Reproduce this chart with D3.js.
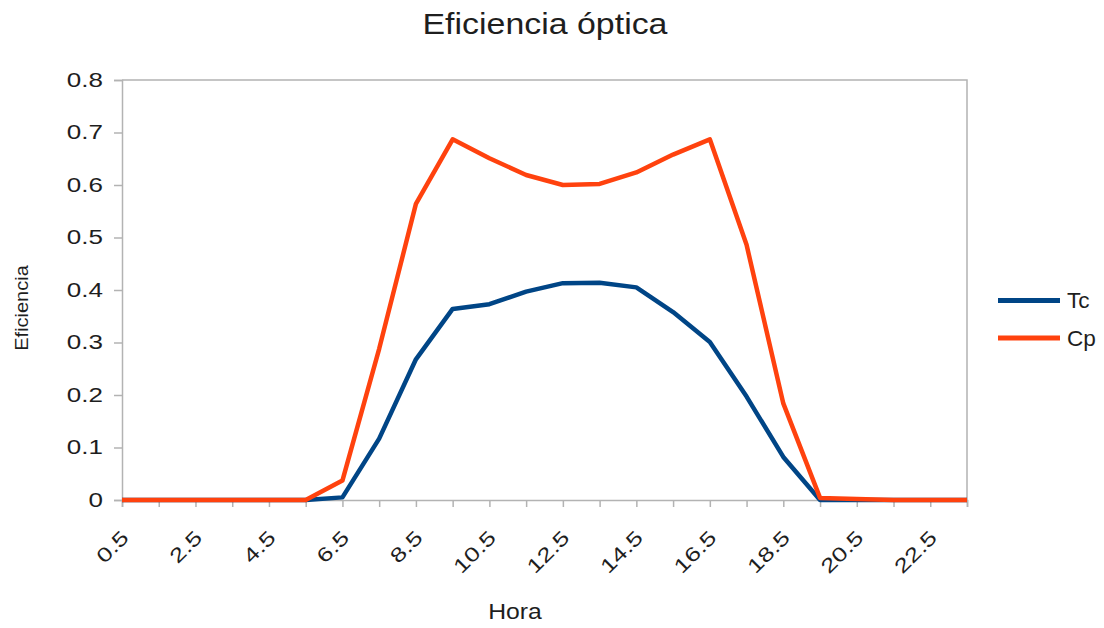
<!DOCTYPE html>
<html>
<head>
<meta charset="utf-8">
<script src="https://cdn.jsdelivr.net/npm/d3@7"></script>
<style>
  body { margin: 0; background: #fff; }
  svg { font-family: "Liberation Sans", Arial, sans-serif; }
</style>
</head>
<body>
<div id="chart"></div>
<script>
const width = 1104;
const height = 628;

// hours, one point per hour
const horas = ["0.5","1.5","2.5","3.5","4.5","5.5","6.5","7.5","8.5","9.5","10.5","11.5",
               "12.5","13.5","14.5","15.5","16.5","17.5","18.5","19.5","20.5","21.5","22.5","23.5"];
const tc = [0,0,0,0,0,0,0.005,0.117,0.268,0.364,0.373,0.397,0.413,0.414,0.405,0.358,0.301,0.197,0.082,0,0,0,0,0];
const cp = [0,0,0,0,0,0,0.037,0.288,0.564,0.687,0.651,0.619,0.600,0.602,0.624,0.658,0.687,0.486,0.184,0.004,0.002,0,0,0];
const yTicks = [0, 0.1, 0.2, 0.3, 0.4, 0.5, 0.6, 0.7, 0.8];
const series = [
    { name: "Tc", values: tc, color: "#004586" },
    { name: "Cp", values: cp, color: "#ff420e" }
];

const margin = { left: 122, right: 137, top: 80, bottom: 128 };

const svg = d3.select('#chart')
    .append("svg")
    .attr('width', width)
    .attr('height', height);

// the reference text is a bit wider than Liberation Sans, stretch it
function stretch(sel, factor) {
    sel.each(function () {
        const w = this.getComputedTextLength();
        d3.select(this)
            .attr("textLength", w * factor)
            .attr("lengthAdjust", "spacingAndGlyphs");
    });
}

const x = d3.scalePoint()
    .domain(horas)
    .range([margin.left, width - margin.right]);

const y = d3.scaleLinear()
    .domain([0, 0.8])
    .range([height - margin.bottom, margin.top]);

// frame (top and right)
svg.append("path")
    .attr("d", `M${margin.left},${y(0.8)}H${width - margin.right}V${y(0)}`)
    .attr("fill", "none")
    .attr("stroke", "#b3b3b3")
    .attr("stroke-width", 1.5);

// y axis
const yAxis = svg.append("g")
    .attr("transform", `translate(${margin.left},0)`)
    .call(d3.axisLeft(y).tickValues(yTicks).tickSize(8).tickPadding(11)
        .tickFormat(d => d === 0 ? "0" : d3.format(".1f")(d)));
yAxis.selectAll("path, line").attr("stroke", "#b3b3b3").attr("stroke-width", 1.5);
yAxis.selectAll("text")
    .attr("font-size", 20)
    .attr("font-family", "Liberation Sans, Arial, sans-serif")
    .attr("fill", "#1e1e1e")
    .call(stretch, 1.3);

// x axis
const xAxis = svg.append("g")
    .attr("transform", `translate(0,${y(0)})`)
    .call(d3.axisBottom(x).tickSize(7).tickFormat(""));
xAxis.selectAll("path, line").attr("stroke", "#b3b3b3").attr("stroke-width", 1.5);

svg.append("g")
    .selectAll("text")
    .data(horas.filter((d, i) => i % 2 === 0))
    .enter().append("text")
    .attr("transform", d => `translate(${x(d) + 3},${y(0) + 34}) rotate(-45)`)
    .attr("text-anchor", "end")
    .attr("dy", "0.35em")
    .attr("font-size", 20)
    .attr("fill", "#1e1e1e")
    .text(d => d)
    .call(stretch, 1.3);

// lines
const line = d3.line()
    .x((d, i) => x(horas[i]))
    .y(d => y(d));

svg.selectAll(".serie")
    .data(series)
    .enter().append("path")
    .attr("class", "serie")
    .attr("d", d => line(d.values))
    .attr("fill", "none")
    .attr("stroke", d => d.color)
    .attr("stroke-width", 4.5)
    .attr("stroke-linejoin", "round");

// title & axis labels
svg.append("text")
    .attr("x", 545).attr("y", 34)
    .attr("text-anchor", "middle")
    .attr("font-size", 30)
    .attr("fill", "#1e1e1e")
    .text("Eficiencia óptica")
    .call(stretch, 1.13);

svg.append("text")
    .attr("x", 515).attr("y", 619)
    .attr("text-anchor", "middle")
    .attr("font-size", 21.5)
    .attr("fill", "#1e1e1e")
    .text("Hora")
    .call(stretch, 1.15);

svg.append("text")
    .attr("transform", "translate(28,308) rotate(-90)")
    .attr("text-anchor", "middle")
    .attr("font-size", 18.5)
    .attr("fill", "#1e1e1e")
    .text("Eficiencia")
    .call(stretch, 1.08);

// legend
const legend = svg.append("g")
    .selectAll("g")
    .data(series)
    .enter().append("g")
    .attr("transform", (d, i) => `translate(998,${300.5 + i * 37.5})`);
legend.append("line")
    .attr("x1", 0).attr("x2", 62)
    .attr("stroke", d => d.color)
    .attr("stroke-width", 5);
legend.append("text")
    .attr("x", 69).attr("dy", "0.35em")
    .attr("font-size", 21.5)
    .attr("fill", "#1e1e1e")
    .text(d => d.name)
    .call(stretch, 1.05);
</script>
</body>
</html>
